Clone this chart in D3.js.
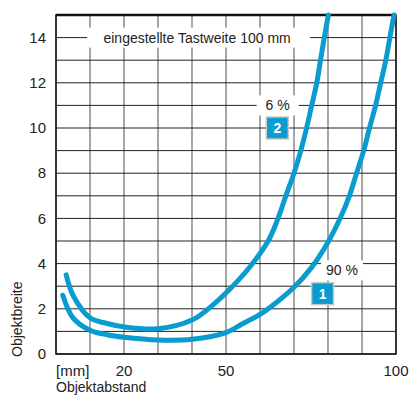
<!DOCTYPE html>
<html>
<head>
<meta charset="utf-8">
<script src="https://cdn.jsdelivr.net/npm/d3@7"></script>
<style>
  body { margin: 0; background: #fff; }
  text { font-family: "Liberation Sans", Arial, sans-serif; fill: #222; }
</style>
</head>
<body>
<div id="chart"></div>
<script>
        // curve 1 (90 %)
        const curve1X = [2, 5, 10, 15, 20, 30, 40, 50, 55, 60, 65, 70, 75, 80, 83.7, 86.3, 88.4, 90.5, 92.2, 94, 95.5, 97, 98.2, 99.4];
        const curve1Y = [2.6, 1.6, 1.05, 0.85, 0.74, 0.62, 0.65, 0.95, 1.35, 1.75, 2.3, 2.95, 3.8, 4.95, 6.05, 7, 8, 9, 10, 11, 12, 13, 14, 15];
        // curve 2 (6 %)
        const curve2X = [3, 5, 10, 15, 20, 30, 40, 46, 51, 57, 62.4, 65.3, 67.6, 70, 72, 73.7, 75.2, 76.7, 77.8, 78.9, 80.1];
        const curve2Y = [3.5, 2.6, 1.6, 1.35, 1.2, 1.12, 1.5, 2.15, 2.85, 3.85, 5, 6, 7, 8, 9, 10, 11, 12, 13, 14, 15];

        const xTicks = [20, 50, 100];
        const yTicks = [0, 2, 4, 6, 8, 10, 12, 14];
        const xGrid = d3.range(0, 101, 10);
        const yGrid = d3.range(0, 16, 1);

        const labels = [
            { text: "6 %", x: 65.2, y: 11.0, badge: "2", bx: 65.1, by: 10.0 },
            { text: "90 %", x: 84.1, y: 3.7, badge: "1", bx: 78.4, by: 2.67 }
        ];
        const titleText = "eingestellte Tastweite 100 mm";

        const margin = { top: 15, right: 13, bottom: 42, left: 56 };
        const width = 409 - margin.left - margin.right;
        const height = 396 - margin.top - margin.bottom;
        const blue = "#0a9bd0";

        const svg = d3.select("#chart").append("svg")
            .attr("width", 409)
            .attr("height", 396);

        const g = svg.append("g")
            .attr("transform", `translate(${margin.left},${margin.top})`);

        const x = d3.scaleLinear().domain([0, 100]).range([0, width]);
        const y = d3.scaleLinear().domain([0, 15]).range([height, 0]);

        // grid
        g.selectAll(".vgrid")
            .data(xGrid)
            .enter().append("line")
            .attr("x1", d => x(d)).attr("x2", d => x(d))
            .attr("y1", 0).attr("y2", height)
            .attr("stroke", "#777")
            .attr("stroke-width", 1.3);

        g.selectAll(".hgrid")
            .data(yGrid)
            .enter().append("line")
            .attr("x1", 0).attr("x2", width)
            .attr("y1", d => y(d)).attr("y2", d => y(d))
            .attr("stroke", "#222")
            .attr("stroke-width", 1);

        // frame
        g.append("rect")
            .attr("width", width)
            .attr("height", height)
            .attr("fill", "none")
            .attr("stroke", "#111")
            .attr("stroke-width", 1.5);
        g.append("line")
            .attr("x1", 0).attr("x2", width)
            .attr("y1", 0).attr("y2", 0)
            .attr("stroke", "#111")
            .attr("stroke-width", 2.5);

        // title label on white
        const title = g.append("g")
            .attr("transform", `translate(${x(41.5)},${y(14)})`);
        title.append("rect")
            .attr("x", -110).attr("y", -10)
            .attr("width", 223).attr("height", 20)
            .attr("fill", "#fff");
        title.append("text")
            .attr("text-anchor", "middle")
            .attr("dy", "0.35em")
            .style("font-size", "14px")
            .text(titleText);

        // curves
        const line = d3.line()
            .x(d => x(d[0]))
            .y(d => y(d[1]))
            .curve(d3.curveCatmullRom.alpha(0.5));

        [[curve1X, curve1Y], [curve2X, curve2Y]].forEach(([xs, ys]) => {
            g.append("path")
                .datum(xs.map((v, i) => [v, ys[i]]))
                .attr("d", line)
                .attr("fill", "none")
                .attr("stroke", blue)
                .attr("stroke-width", 5)
                .attr("stroke-linecap", "round");
        });

        // curve labels
        labels.forEach(l => {
            const t = g.append("g").attr("transform", `translate(${x(l.x)},${y(l.y)})`);
            t.append("rect")
                .attr("x", -21).attr("y", -10)
                .attr("width", 42).attr("height", 20)
                .attr("fill", "#fff");
            t.append("text")
                .attr("text-anchor", "middle")
                .attr("dy", "0.35em")
                .style("font-size", "14px")
                .text(l.text);

            const b = g.append("g").attr("transform", `translate(${x(l.bx)},${y(l.by)})`);
            b.append("rect")
                .attr("x", -11).attr("y", -11)
                .attr("width", 22).attr("height", 22)
                .attr("fill", blue)
                .attr("stroke", "#c8c8c8")
                .attr("stroke-width", 1.5);
            b.append("text")
                .attr("text-anchor", "middle")
                .attr("dy", "0.36em")
                .style("font-size", "14px")
                .style("font-weight", "bold")
                .style("fill", "#fff")
                .text(l.badge);
        });

        // axis labels
        g.selectAll(".ytick")
            .data(yTicks)
            .enter().append("text")
            .attr("x", -10)
            .attr("y", d => y(d))
            .attr("dy", "0.35em")
            .attr("text-anchor", "end")
            .style("font-size", "15px")
            .text(d => d);

        g.selectAll(".xtick")
            .data(xTicks)
            .enter().append("text")
            .attr("x", d => x(d))
            .attr("y", height + 22)
            .attr("text-anchor", "middle")
            .style("font-size", "15px")
            .text(d => d);

        g.append("text")
            .attr("x", 0)
            .attr("y", height + 22)
            .style("font-size", "15px")
            .text("[mm]");

        g.append("text")
            .attr("x", 0)
            .attr("y", height + 38)
            .style("font-size", "14px")
            .text("Objektabstand");

        svg.append("text")
            .attr("transform", "translate(22,357) rotate(-90)")
            .style("font-size", "14px")
            .text("Objektbreite");
</script>
</body>
</html>
